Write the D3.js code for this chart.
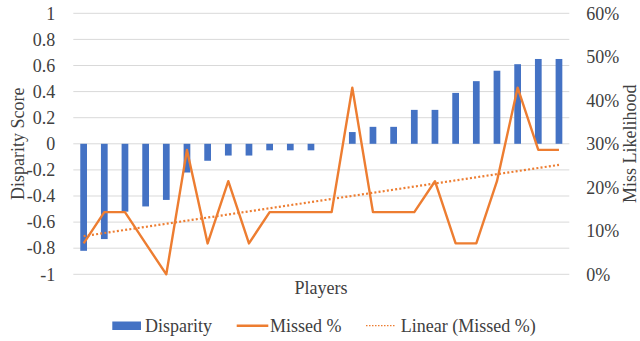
<!DOCTYPE html>
<html><head><meta charset="utf-8">
<script src="https://cdn.jsdelivr.net/npm/d3@7"></script>
<style>body{margin:0;background:#fff;}svg{display:block;}
svg text{font-family:"Liberation Serif","Times New Roman",Times,serif !important;}</style>
</head><body>
<svg id="c" width="640" height="341"></svg>
<script>
const players = d3.range(1, 25).map(String);
const disparity = [-0.82,-0.73,-0.52,-0.48,-0.43,-0.22,-0.13,-0.09,-0.09,-0.05,-0.05,-0.05,0,0.09,0.13,0.13,0.26,0.26,0.39,0.48,0.56,0.61,0.65,0.65];
const missed = [0.071,0.143,0.143,0.071,0,0.286,0.071,0.214,0.071,0.143,0.143,0.143,0.143,0.429,0.143,0.143,0.143,0.214,0.071,0.071,0.214,0.429,0.286,0.286];
const leftTicks = [-1,-0.8,-0.6,-0.4,-0.2,0,0.2,0.4,0.6,0.8,1];
const rightTicks = [0,0.1,0.2,0.3,0.4,0.5,0.6];
const seriesNames = ["Disparity","Missed %","Linear (Missed %)"];

const txt = "#404040";
const svg = d3.select("#c");
const L = 73.3, R = 569.3, T = 13.3, B = 274.3;

const x = d3.scaleBand().domain(players).range([L, R]).paddingInner(0.675).paddingOuter(0.3375);
const yL = d3.scaleLinear().domain([-1, 1]).range([B, T]);
const yR = d3.scaleLinear().domain([0, 0.6]).range([B, T]);
const cx = d => x(d) + x.bandwidth() / 2;

// gridlines
svg.append("g").selectAll("line").data(leftTicks).join("line")
  .attr("x1", L).attr("x2", R).attr("y1", d => yL(d)).attr("y2", d => yL(d))
  .attr("stroke", "#d9d9d9").attr("stroke-width", 1);

// left axis
const gl = svg.append("g").attr("transform", `translate(${L},0)`)
  .call(d3.axisLeft(yL).tickValues(leftTicks).tickSize(0).tickPadding(18).tickFormat(d => String(Math.round(d * 10) / 10)));
gl.select(".domain").remove();
gl.selectAll("text").attr("font-size", 18).attr("fill", txt);

// right axis
const gr = svg.append("g").attr("transform", `translate(${R},0)`)
  .call(d3.axisRight(yR).tickValues(rightTicks).tickSize(0).tickPadding(17).tickFormat(d3.format(".0%")));
gr.select(".domain").remove();
gr.selectAll("text").attr("font-size", 18).attr("fill", txt);

// bars
svg.append("g").selectAll("rect").data(players).join("rect")
  .attr("x", d => x(d)).attr("width", x.bandwidth())
  .attr("y", (d, i) => yL(Math.max(0, disparity[i])))
  .attr("height", (d, i) => Math.abs(yL(disparity[i]) - yL(0)))
  .attr("fill", "#4472C4");

// trend line (least squares on index)
const n = missed.length;
const xs = d3.range(1, n + 1);
const mx = d3.mean(xs), my = d3.mean(missed);
const slope = d3.sum(xs, (v, i) => (v - mx) * (missed[i] - my)) / d3.sum(xs, v => (v - mx) ** 2);
const icpt = my - slope * mx;
svg.append("line")
  .attr("x1", cx(players[0])).attr("x2", cx(players[n - 1]))
  .attr("y1", yR(icpt + slope * 1)).attr("y2", yR(icpt + slope * n))
  .attr("stroke", "#ED7D31").attr("stroke-width", 2.2).attr("stroke-dasharray", "2,2.2");

// missed line
svg.append("path").datum(missed)
  .attr("d", d3.line().x((d, i) => cx(players[i])).y(d => yR(d)))
  .attr("fill", "none").attr("stroke", "#ED7D31").attr("stroke-width", 2.4).attr("stroke-linejoin", "round");

// axis titles
svg.append("text").attr("transform", `translate(24,${(T + B) / 2}) rotate(-90)`)
  .attr("text-anchor", "middle").attr("font-size", 18).attr("fill", txt).text("Disparity Score");
svg.append("text").attr("transform", `translate(636,${(T + B) / 2}) rotate(-90)`)
  .attr("text-anchor", "middle").attr("font-size", 18).attr("fill", txt).text("Miss Likelihood");
svg.append("text").attr("x", 321).attr("y", 294).attr("text-anchor", "middle")
  .attr("font-size", 18).attr("fill", txt).text("Players");

// legend
const lg = svg.append("g").attr("font-size", 18).attr("fill", txt);
lg.append("rect").attr("x", 112.3).attr("y", 321.5).attr("width", 28.7).attr("height", 8.5).attr("fill", "#4472C4");
lg.append("text").attr("x", 145).attr("y", 332).text(seriesNames[0]);
lg.append("line").attr("x1", 236.7).attr("x2", 268.3).attr("y1", 325.7).attr("y2", 325.7).attr("stroke", "#ED7D31").attr("stroke-width", 2.4);
lg.append("text").attr("x", 270).attr("y", 332).text(seriesNames[1]);
lg.append("line").attr("x1", 366).attr("x2", 395).attr("y1", 325.7).attr("y2", 325.7).attr("stroke", "#ED7D31").attr("stroke-width", 1.2).attr("stroke-dasharray", "1.5,1.5");
lg.append("text").attr("x", 400.7).attr("y", 332).text(seriesNames[2]);
</script>
</body></html>
